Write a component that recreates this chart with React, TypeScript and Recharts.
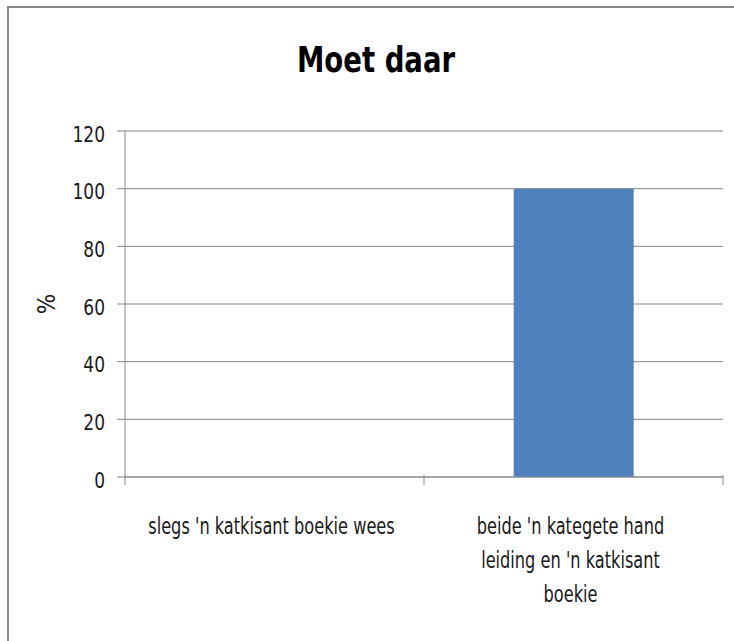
import React from "react";
import { BarChart, Bar, XAxis, YAxis, CartesianGrid, Label } from "recharts";

const categories = ["slegs 'n katkisant boekie wees", "beide 'n kategete hand leiding en 'n katkisant boekie"];
const values = [0, 100];
const tickLines = [["slegs 'n katkisant boekie wees"], ["beide 'n kategete hand", "leiding en 'n katkisant", "boekie"]];
const yTicks = [0, 20, 40, 60, 80, 100, 120];

const data = categories.map((name, i) => ({ name, value: values[i] }));

const FONT = "'Liberation Sans Narrow', 'DejaVu Sans Condensed', sans-serif";
const GREY = "#878787";
const TEXT = "#1a1a1a";
const PLOT_LEFT = 125;
const PLOT_RIGHT = 723;
const BAND = (PLOT_RIGHT - PLOT_LEFT) / categories.length;

// squeeze text horizontally around x, to get the tall narrow look of the original
const squeeze = (x: number, s: number) => `translate(${x},0) scale(${s},1) translate(${-x},0)`;

function CategoryTick(props: any) {
  const { x, y, payload, index } = props;
  const half = BAND / 2;
  const lines = tickLines[index] || [payload.value];
  const cx = x - 3;
  return (
    <g>
      {index === 0 && <line x1={x - half} y1={y - 10} x2={x - half} y2={y} stroke={GREY} strokeWidth={1} />}
      <line x1={x + half} y1={y - 10} x2={x + half} y2={y} stroke={GREY} strokeWidth={1} />
      <text
        x={cx}
        y={y + 49}
        textAnchor="middle"
        fontSize={22.5}
        fontFamily={FONT}
        fill={TEXT}
        transform={squeeze(cx, 0.8)}
      >
        {lines.map((l: string, i: number) => (
          <tspan key={i} x={cx} dy={i === 0 ? 0 : 34}>
            {l}
          </tspan>
        ))}
      </text>
    </g>
  );
}

function ValueTick(props: any) {
  const { x, y, payload } = props;
  return (
    <text
      x={x}
      y={y + 3}
      dy="0.355em"
      textAnchor="end"
      fontSize={21.5}
      fontFamily={FONT}
      fill={TEXT}
      transform={squeeze(x, 0.88)}
    >
      {payload.value}
    </text>
  );
}

export default function App() {
  return (
    <div style={{ position: "fixed", left: 0, top: 0, width: 734, height: 641, background: "#fff" }}>
      <div
        style={{
          position: "absolute",
          left: 7,
          top: 6,
          width: 740,
          height: 660,
          borderLeft: `2px solid ${GREY}`,
          borderTop: `2px solid ${GREY}`,
        }}
      />
      <div
        style={{
          position: "absolute",
          left: 0,
          width: 752,
          top: 39,
          textAlign: "center",
          fontFamily: FONT,
          fontWeight: "bold",
          fontSize: 36,
          color: "#000",
          transform: "scaleX(0.85)",
          transformOrigin: "376px 0",
        }}
      >
        Moet daar
      </div>
      <div style={{ position: "absolute", left: 0, top: 0 }}>
        <BarChart
          width={734}
          height={641}
          data={data}
          margin={{ top: 131, right: 11, bottom: 24, left: 0 }}
          barCategoryGap="30%"
        >
          <CartesianGrid vertical={false} stroke={GREY} strokeDasharray="" />
          <XAxis
            dataKey="name"
            height={140}
            axisLine={{ stroke: GREY }}
            tickLine={false}
            interval={0}
            tick={<CategoryTick />}
          />
          <YAxis
            width={125}
            domain={[0, 120]}
            ticks={yTicks}
            axisLine={{ stroke: GREY }}
            tickLine={{ stroke: GREY }}
            tickSize={8}
            tickMargin={12}
            tick={<ValueTick />}
          >
            <Label
              value="%"
              angle={-90}
              position="insideLeft"
              offset={46}
              style={{ fontSize: 24, fontFamily: FONT, fill: TEXT, textAnchor: "middle" }}
            />
          </YAxis>
          <Bar dataKey="value" fill="#4F81BD" isAnimationActive={false} />
        </BarChart>
      </div>
    </div>
  );
}
